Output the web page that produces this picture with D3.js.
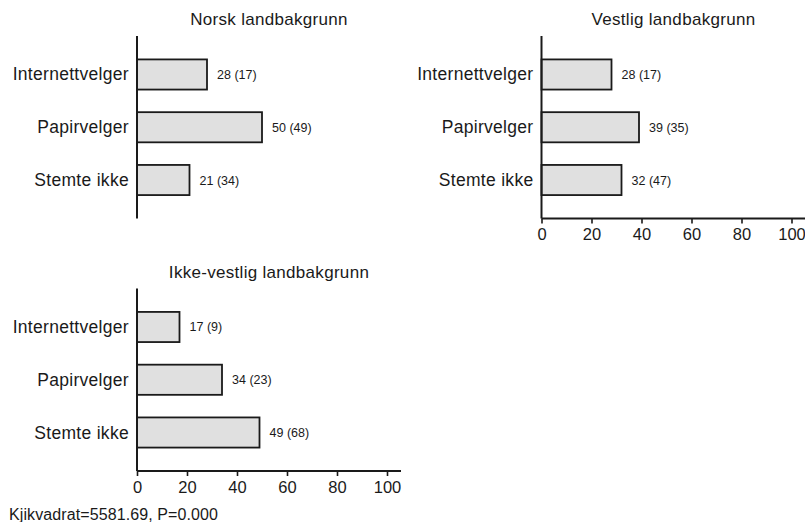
<!DOCTYPE html>
<html>
<head>
<meta charset="utf-8">
<script src="https://cdn.jsdelivr.net/npm/d3@7/dist/d3.min.js"></script>
<style>
  html, body { margin: 0; padding: 0; background: #fff; }
  svg { display: block; }
  text { font-family: "Liberation Sans", Arial, sans-serif; fill: #1a1a1a; }
</style>
</head>
<body>
<svg id="chart" width="805" height="522"></svg>
<script>
const categories = ["Internettvelger", "Papirvelger", "Stemte ikke"];
const panelTitles = ["Norsk landbakgrunn", "Vestlig landbakgrunn", "Ikke-vestlig landbakgrunn"];
const norskValues = [28, 50, 21];
const norskPrevious = [17, 49, 34];
const vestligValues = [28, 39, 32];
const vestligPrevious = [17, 35, 47];
const ikkeVestligValues = [17, 34, 49];
const ikkeVestligPrevious = [9, 23, 68];
const xTicks = [0, 20, 40, 60, 80, 100];
const footnote = "Kjikvadrat=5581.69, P=0.000";

const panels = [
  { title: panelTitles[0], values: norskValues, prev: norskPrevious, left: 137, top: 36, xAxis: false },
  { title: panelTitles[1], values: vestligValues, prev: vestligPrevious, left: 541.5, top: 36, xAxis: true },
  { title: panelTitles[2], values: ikkeVestligValues, prev: ikkeVestligPrevious, left: 137, top: 288.5, xAxis: true }
];

const plotW = 264, plotH = 182.5, scaleW = 250;
const ink = "#1a1a1a";
const svg = d3.select("#chart");

const x = d3.scaleLinear().domain([0, 100]).range([0, scaleW]);
const y = d3.scaleBand().domain(categories).range([0, plotH]).paddingInner(0.4286).paddingOuter(0.444);

panels.forEach(p => {
  const g = svg.append("g").attr("transform", `translate(${p.left},${p.top})`);

  g.append("text")
    .attr("x", plotW / 2).attr("y", -11)
    .attr("text-anchor", "middle")
    .style("font-size", "17px")
    .style("letter-spacing", "0.3px")
    .text(p.title);

  // bars
  g.selectAll("rect.bar").data(categories).enter().append("rect")
    .attr("class", "bar")
    .attr("x", 0)
    .attr("y", d => y(d))
    .attr("width", (d, i) => x(p.values[i]))
    .attr("height", y.bandwidth())
    .attr("fill", "#e0e0e0")
    .attr("stroke", ink)
    .attr("stroke-width", 1.8);

  // value labels
  g.selectAll("text.val").data(categories).enter().append("text")
    .attr("class", "val")
    .attr("x", (d, i) => x(p.values[i]) + 10)
    .attr("y", d => y(d) + y.bandwidth() / 2 + 4.5)
    .style("font-size", "12.5px")
    .text((d, i) => `${p.values[i]} (${p.prev[i]})`);

  // category axis
  const yAxis = g.append("g").call(d3.axisLeft(y).tickSize(0).tickPadding(8));
  yAxis.select(".domain").remove();
  yAxis.selectAll("text")
    .attr("dy", null).attr("y", 6)
    .style("font-size", "17.5px")
    .style("letter-spacing", "0.3px")
    .style("font-family", "'Liberation Sans', Arial, sans-serif")
    .attr("fill", ink);

  g.append("line")
    .attr("x1", 0).attr("x2", 0).attr("y1", 0).attr("y2", plotH)
    .attr("stroke", ink).attr("stroke-width", 2);

  if (p.xAxis) {
    const xa = g.append("g").attr("transform", `translate(0,${plotH})`)
      .call(d3.axisBottom(x).tickValues(xTicks).tickSize(5).tickSizeOuter(0).tickPadding(5));
    xa.select(".domain").remove();
    xa.selectAll(".tick line").attr("stroke", ink).attr("stroke-width", 1.6);
    xa.selectAll("text")
      .style("font-size", "16.5px")
      .style("font-family", "'Liberation Sans', Arial, sans-serif")
      .attr("fill", ink);
    g.append("line")
      .attr("x1", 0).attr("x2", plotW).attr("y1", plotH).attr("y2", plotH)
      .attr("stroke", ink).attr("stroke-width", 2);
  }
});

svg.append("text")
  .attr("x", 9).attr("y", 520)
  .style("font-size", "16px")
  .style("letter-spacing", "0.1px")
  .text(footnote);
</script>
</body>
</html>
